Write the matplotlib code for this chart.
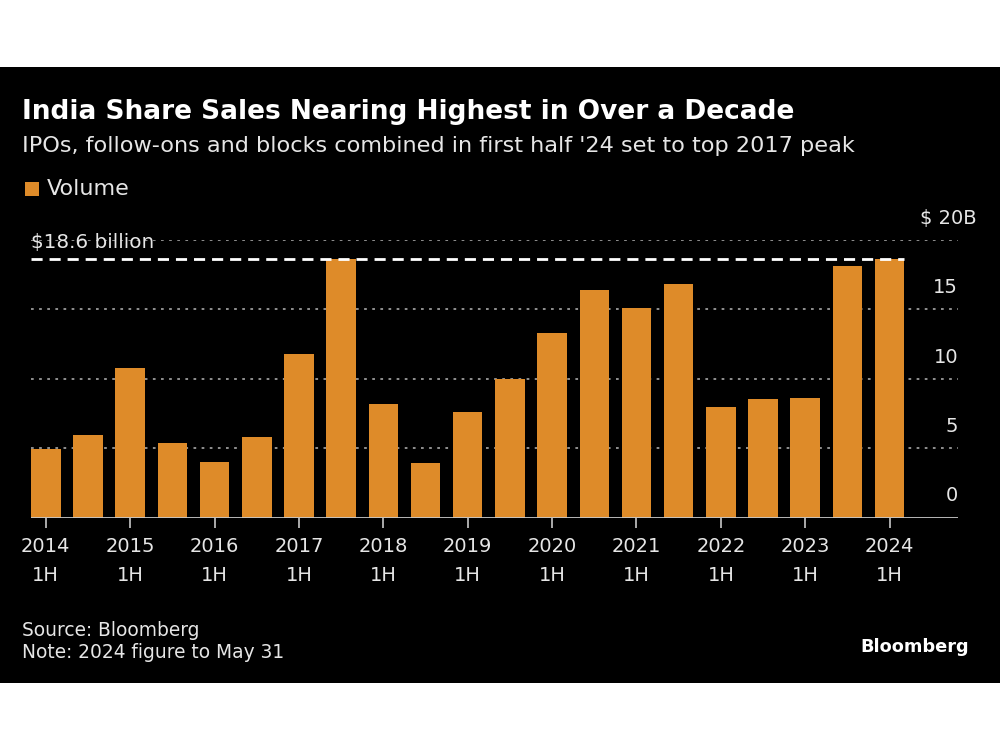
import matplotlib
matplotlib.use("Agg")
import matplotlib.pyplot as plt
from matplotlib.patches import Rectangle
import matplotlib.transforms as mtransforms

# 半年度发行额 (十亿美元), 2014 1H ... 2024 1H
periods = ["2014 1H", "2014 2H", "2015 1H", "2015 2H", "2016 1H", "2016 2H",
           "2017 1H", "2017 2H", "2018 1H", "2018 2H", "2019 1H", "2019 2H",
           "2020 1H", "2020 2H", "2021 1H", "2021 2H", "2022 1H", "2022 2H",
           "2023 1H", "2023 2H", "2024 1H"]
volume = [4.95, 5.95, 10.8, 5.4, 4.0, 5.8, 11.75, 18.6, 8.2, 3.9, 7.6, 10.0,
          13.3, 16.4, 15.1, 16.85, 8.0, 8.55, 8.6, 18.15, 18.65]
tick_labels = ["2014\n1H", "2015\n1H", "2016\n1H", "2017\n1H", "2018\n1H", "2019\n1H",
               "2020\n1H", "2021\n1H", "2022\n1H", "2023\n1H", "2024\n1H"]
y_ticks = [0, 5, 10, 15, 20]
y_tick_labels = ["0", "5", "10", "15", "$ 20B"]
peak = 18.6

BG = "black"
ORANGE = "#DE8B29"
TXT = "#E6E6E6"

plt.rcParams["font.family"] = ["DejaVu Sans"]

fig = plt.figure(figsize=(10, 7.5), dpi=100)
fig.patch.set_facecolor("white")
# 黑色面板
fig.patches.append(Rectangle((0, 1 - 683 / 750), 1, (683 - 67) / 750,
                             transform=fig.transFigure, facecolor=BG, zorder=-10))

ax = fig.add_axes([0.031, 1 - 517.5 / 750, 0.927, (517.5 - 240) / 750])
ax.set_facecolor(BG)
x = list(range(len(volume)))
ax.bar(x, volume, width=0.7, color=ORANGE, zorder=3)
ax.set_xlim(-0.35, 21.62)
ax.set_ylim(0, 20)

for v in y_ticks[1:]:
    ax.axhline(v, color="#9a9a9a", lw=1.3, ls=(0, (1.5, 3)), zorder=1)
ax.axhline(0, color="#c8c8c8", lw=2, zorder=4)
ax.plot([-0.35, 20.35], [peak, peak], color="white", lw=2, ls=(0, (4, 2.5)),
        zorder=5, clip_on=False)
ax.text(-0.35, peak + 0.55, "$18.6 billion", color=TXT, fontsize=14.4,
        ha="left", va="bottom")

for s in ax.spines.values():
    s.set_visible(False)
ax.set_yticks([])
ax.set_xticks(x[::2])
ax.set_xticklabels(tick_labels, color=TXT, fontsize=14, linespacing=1.65)
ax.tick_params(axis="x", length=7, width=1.2, color="#c8c8c8", pad=7)

trans = mtransforms.blended_transform_factory(ax.transAxes, ax.transData)
for v, lab in zip(y_ticks, y_tick_labels):
    xpos = 1.0 if v != 20 else 1.0 + 19 / 927
    ax.text(xpos, v + 1.55, lab, transform=trans, color=TXT, fontsize=14,
            ha="right", va="center")

fig.text(0.022, 1 - 112 / 750, "India Share Sales Nearing Highest in Over a Decade",
         color="white", fontsize=19, fontweight="bold", ha="left", va="center")
fig.text(0.022, 1 - 146 / 750,
         "IPOs, follow-ons and blocks combined in first half '24 set to top 2017 peak",
         color=TXT, fontsize=16.1, ha="left", va="center")
fig.patches.append(Rectangle((0.025, 1 - 196 / 750), 0.014, 14 / 750,
                             transform=fig.transFigure, facecolor=ORANGE))
fig.text(0.047, 1 - 189 / 750, "Volume", color=TXT, fontsize=16,
         ha="left", va="center")

fig.text(0.022, 1 - 630 / 750, "Source: Bloomberg", color=TXT, fontsize=13.4,
         ha="left", va="center")
fig.text(0.022, 1 - 653 / 750, "Note: 2024 figure to May 31", color=TXT, fontsize=13.4,
         ha="left", va="center")
fig.text(0.969, 1 - 647 / 750, "Bloomberg", color="white", fontsize=12.8,
         fontweight="bold", ha="right", va="center")

fig.savefig("out.png", dpi=100, facecolor=fig.get_facecolor())
